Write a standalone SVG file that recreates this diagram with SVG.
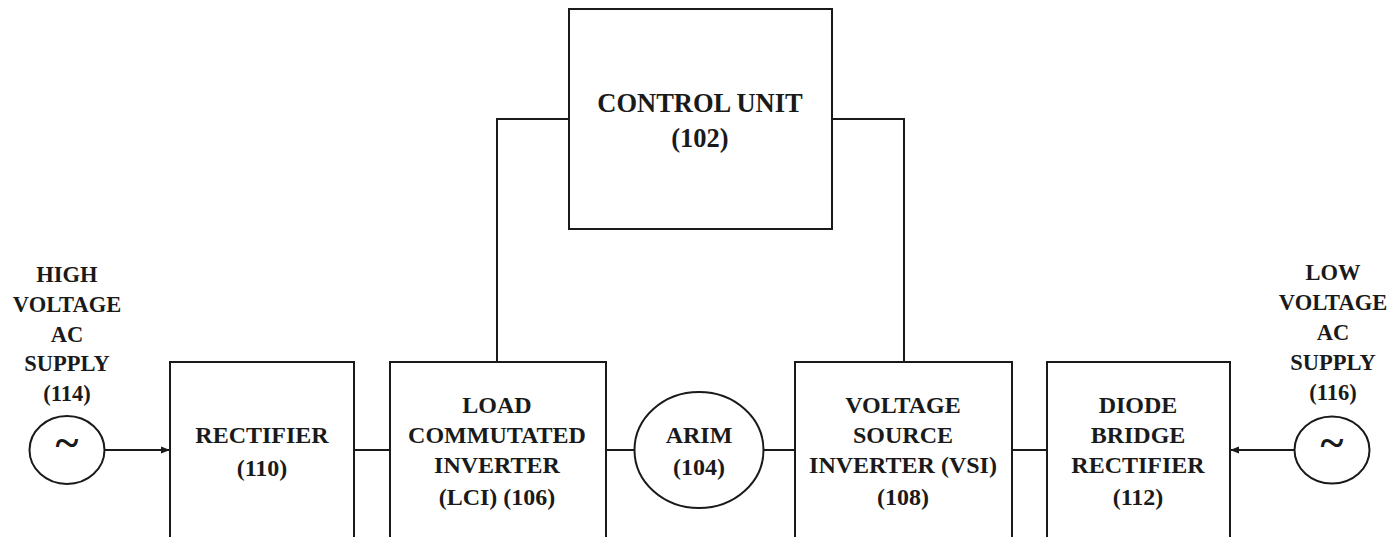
<svg xmlns="http://www.w3.org/2000/svg" width="1398" height="537" viewBox="0 0 1398 537">
<style>
.box{fill:#fff;stroke:#1a1a1a;stroke-width:2}
.ln{fill:none;stroke:#1a1a1a;stroke-width:2}
text{font-family:"Liberation Serif","Times New Roman",serif;font-weight:bold;fill:#1a1a1a;text-anchor:middle}
.t{font-size:24px}
.o{font-size:22.5px}
.c{font-size:26.5px}
.tl{font-size:44px}
</style>
<defs>
<marker id="ah" markerWidth="10" markerHeight="8" refX="9" refY="4" orient="auto" markerUnits="userSpaceOnUse">
<path d="M0,0.5 L9,4 L0,7.5 Z" fill="#1a1a1a"/>
</marker>
</defs>
<rect width="1398" height="537" fill="#fff"/>
<g id="connectors">
<path class="ln" d="M497,362 V119 H569"/>
<path class="ln" d="M904,362 V119 H832"/>
<line class="ln" x1="354" y1="450" x2="390" y2="450"/>
<line class="ln" x1="606" y1="450" x2="634" y2="450"/>
<line class="ln" x1="763" y1="450" x2="795" y2="450"/>
<line class="ln" x1="1012" y1="450" x2="1047" y2="450"/>
<line class="ln" x1="105" y1="450" x2="170" y2="450" marker-end="url(#ah)"/>
<line class="ln" x1="1295" y1="450" x2="1230" y2="450" marker-end="url(#ah)"/>
</g>
<g id="control-unit">
<rect class="box" x="569" y="9" width="263" height="220"/>
<text class="c" x="700" y="112">CONTROL UNIT</text>
<text class="c" x="700" y="147">(102)</text>
</g>
<g id="hv-supply">
<text class="o" x="67" y="282">HIGH</text>
<text class="o" x="67" y="312">VOLTAGE</text>
<text class="o" x="67" y="342">AC</text>
<text class="o" x="67" y="371">SUPPLY</text>
<text class="o" x="67" y="401">(114)</text>
<ellipse class="box" cx="67" cy="450" rx="37.5" ry="34"/>
<text class="tl" x="67" y="457">~</text>
</g>
<g id="rectifier">
<rect class="box" x="170" y="362" width="184" height="200"/>
<text class="t" x="262" y="443">RECTIFIER</text>
<text class="t" x="262" y="476">(110)</text>
</g>
<g id="lci">
<rect class="box" x="390" y="362" width="216" height="200"/>
<text class="t" x="497" y="413">LOAD</text>
<text class="t" x="497" y="443">COMMUTATED</text>
<text class="t" x="497" y="473">INVERTER</text>
<text class="t" x="497" y="505">(LCI) (106)</text>
</g>
<g id="arim">
<ellipse class="box" cx="699" cy="450" rx="64.5" ry="58"/>
<text class="t" x="699" y="443">ARIM</text>
<text class="t" x="699" y="475">(104)</text>
</g>
<g id="vsi">
<rect class="box" x="795" y="362" width="217" height="200"/>
<text class="t" x="903" y="413">VOLTAGE</text>
<text class="t" x="903" y="443">SOURCE</text>
<text class="t" x="903" y="473">INVERTER (VSI)</text>
<text class="t" x="903" y="505">(108)</text>
</g>
<g id="dbr">
<rect class="box" x="1047" y="362" width="183" height="200"/>
<text class="t" x="1138" y="413">DIODE</text>
<text class="t" x="1138" y="443">BRIDGE</text>
<text class="t" x="1138" y="473">RECTIFIER</text>
<text class="t" x="1138" y="505">(112)</text>
</g>
<g id="lv-supply">
<text class="o" x="1333" y="280">LOW</text>
<text class="o" x="1333" y="310">VOLTAGE</text>
<text class="o" x="1333" y="340">AC</text>
<text class="o" x="1333" y="370">SUPPLY</text>
<text class="o" x="1333" y="400">(116)</text>
<ellipse class="box" cx="1332" cy="450" rx="37.5" ry="33.5"/>
<text class="tl" x="1332" y="457">~</text>
</g>
</svg>
